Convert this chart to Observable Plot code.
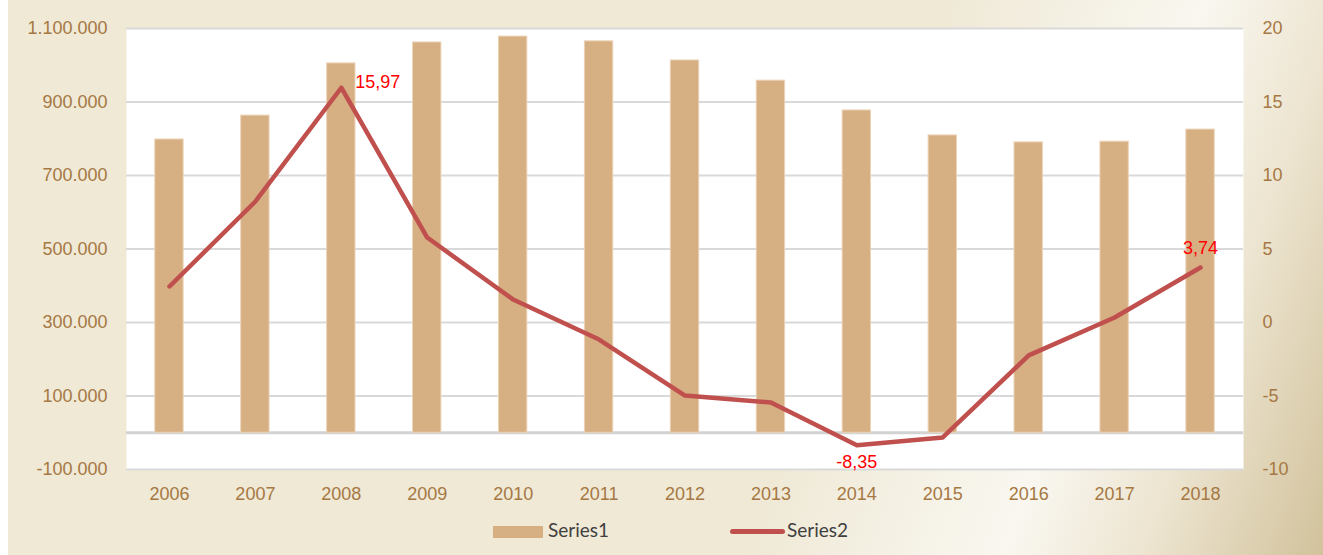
<!DOCTYPE html>
<html>
<head>
<meta charset="utf-8">
<script src="https://cdn.jsdelivr.net/npm/d3@7"></script>
<script src="https://cdn.jsdelivr.net/npm/@observablehq/plot@0.6"></script>
<style>
  html, body { margin: 0; padding: 0; width: 1323px; height: 555px; overflow: hidden; background: #ffffff; }
  #bg { position: absolute; left: 8px; top: 0; width: 1315px; height: 555px;
    background: linear-gradient(110deg, #EFE9D6 0%, #EFE9D6 62%, #F9F7F0 79%, #EDE5D1 88%, #D2C29C 100%); }
  #chart { position: absolute; left: 0; top: 0; }
  .leg { position: absolute; font-family: Lato, "Liberation Sans", sans-serif; font-size: 19px; color: #404040; }
</style>
</head>
<body>
<div id="bg"></div>
<div id="chart"></div>
<div id="legend"></div>
<script>
const years = [2006, 2007, 2008, 2009, 2010, 2011, 2012, 2013, 2014, 2015, 2016, 2017, 2018];
const series1 = [798000, 863000, 1005000, 1062000, 1078000, 1065000, 1013000, 958000, 877000, 809000, 790000, 792000, 825000];
const series2 = [2.45, 8.23, 15.97, 5.78, 1.56, -1.16, -4.97, -5.44, -8.35, -7.82, -2.24, 0.34, 3.74];
const leftTicks = [-100000, 100000, 300000, 500000, 700000, 900000, 1100000];
const rightTicks = [-10, -5, 0, 5, 10, 15, 20];
const labelYears = [2008, 2014, 2018];
const seriesNames = ["Series1", "Series2"];

const leftDomain = [-100000, 1100000];
const rightDomain = [-10, 20];
const toLeft = v => (v - rightDomain[0]) / (rightDomain[1] - rightDomain[0]) * (leftDomain[1] - leftDomain[0]) + leftDomain[0];
const toRight = v => (v - leftDomain[0]) / (leftDomain[1] - leftDomain[0]) * (rightDomain[1] - rightDomain[0]) + rightDomain[0];

const data = years.map((y, i) => ({year: y, s1: series1[i], s2: series2[i], s2l: toLeft(series2[i])}));
const fmtComma = v => v.toFixed(2).replace(".", ",");
const lab = y => data.filter(d => d.year === y);

const chart = Plot.plot({
  width: 1323,
  height: 510,
  marginLeft: 126,
  marginRight: 80,
  marginTop: 28,
  marginBottom: 41,
  style: {background: "transparent", fontFamily: "'Liberation Sans', Arial, sans-serif", fontSize: "18px", color: "#A67843"},
  x: {type: "band", domain: years, paddingInner: 0.67, paddingOuter: 0.335, round: false, label: null},
  y: {domain: leftDomain, label: null},
  marks: [
    Plot.frame({fill: "white", stroke: null}),
    Plot.ruleY(leftTicks, {stroke: "#D9D9D9", strokeWidth: 2}),
    Plot.ruleY([0], {stroke: "#D2D2D2", strokeWidth: 3}),
    Plot.barY(data, {x: "year", y: "s1", fill: "#D6AF83", stroke: "#EBD3B6", strokeWidth: 1}),
    Plot.line(data, {x: "year", y: "s2l", stroke: "#C0504D", strokeWidth: 4.5, strokeLinecap: "round", strokeLinejoin: "round"}),
    Plot.text(lab(2008), {x: "year", y: "s2l", text: d => fmtComma(d.s2), dx: 14, dy: -6, textAnchor: "start", fill: "#FF0000", fontSize: 18}),
    Plot.text(lab(2014), {x: "year", y: "s2l", text: d => fmtComma(d.s2), dy: 17, textAnchor: "middle", fill: "#FF0000", fontSize: 18}),
    Plot.text(lab(2018), {x: "year", y: "s2l", text: d => fmtComma(d.s2), dy: -19, textAnchor: "middle", fill: "#FF0000", fontSize: 18}),
    Plot.axisY({anchor: "left", ticks: leftTicks, tickSize: 0, tickPadding: 19, tickFormat: d => d.toLocaleString("de-DE"), label: null}),
    Plot.axisY({anchor: "right", ticks: rightTicks.map(toLeft), tickSize: 0, tickPadding: 19, tickFormat: d => String(Math.round(toRight(d))), label: null}),
    Plot.axisX({tickSize: 0, tickPadding: 18, tickFormat: d => String(d), label: null})
  ]
});
document.getElementById("chart").appendChild(chart);

// Legend
const legend = document.getElementById("legend");
legend.innerHTML = `
  <div style="position:absolute;left:493px;top:526px;width:50px;height:12px;background:#D6AF83;"></div>
  <div class="leg" style="left:548px;top:518px;">${seriesNames[0]}</div>
  <div style="position:absolute;left:730px;top:529px;width:55px;height:5px;border-radius:3px;background:#C0504D;"></div>
  <div class="leg" style="left:787px;top:518px;">${seriesNames[1]}</div>
`;
</script>
</body>
</html>
